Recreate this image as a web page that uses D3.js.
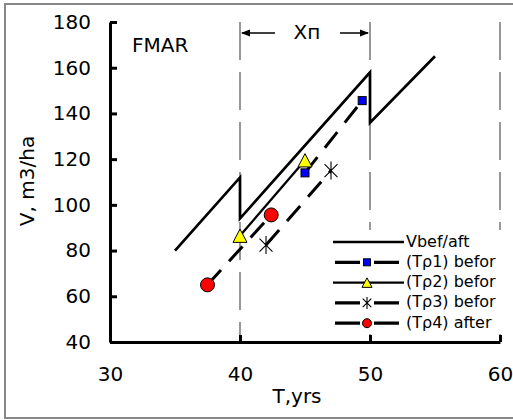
<!DOCTYPE html>
<html>
<head>
<meta charset="utf-8">
<script src="https://cdn.jsdelivr.net/npm/d3@7"></script>
<style>
  body { margin: 0; background: #fff; }
  svg { display: block; font-family: "DejaVu Sans", Verdana, sans-serif; }
</style>
</head>
<body>
<svg width="513" height="420"></svg>
<script>
// stand age (years) and stock volume (m3/ha)
const vbefT = [35, 40, 40, 50, 50, 55];
const vbefV = [80, 112, 94, 158, 136, 165];
const tp1T = [45, 49.4];
const tp1V = [114, 145.6];
const tp2T = [40, 45];
const tp2V = [86.5, 119.5];
const tp3T = [42, 47];
const tp3V = [82.4, 115];
const tp4T = [37.5, 42.4];
const tp4V = [65, 95.6];

const xTicks = [30, 40, 50, 60];
const yTicks = [40, 60, 80, 100, 120, 140, 160, 180];
const guideT = [40, 50, 60];
const legendLabels = ["Vbef/aft", "(Tρ1) befor", "(Tρ2) befor", "(Tρ3) befor", "(Tρ4) after"];

const svg = d3.select("svg");
const x = d3.scaleLinear([30, 60], [110, 500]);
const y = d3.scaleLinear([40, 180], [342, 22]);

// outer frame (right edge falls outside the picture)
svg.append("rect")
    .attr("x", 5).attr("y", 4)
    .attr("width", 530).attr("height", 414)
    .attr("fill", "#fff")
    .attr("stroke", "#888")
    .attr("stroke-width", 2);

// vertical dashed guides
svg.append("g").selectAll("line")
    .data(guideT)
    .join("line")
    .attr("x1", d => x(d)).attr("x2", d => x(d))
    .attr("y1", y(180)).attr("y2", y(40))
    .attr("stroke", "#444")
    .attr("stroke-width", 1.1)
    .attr("stroke-dasharray", "38,12");

// period arrows  <-  Χп  ->
const ay = 33;
const arrows = svg.append("g").attr("stroke", "#000").attr("fill", "#000");
arrows.append("line")
    .attr("x1", x(40) + 2).attr("x2", x(40) + 35)
    .attr("y1", ay).attr("y2", ay).attr("stroke-width", 1.5);
arrows.append("path")
    .attr("d", `M${x(40) + 1},${ay}L${x(40) + 10},${ay - 3.5}L${x(40) + 10},${ay + 3.5}Z`)
    .attr("stroke", "none");
arrows.append("line")
    .attr("x1", x(50) - 30).attr("x2", x(50) - 2)
    .attr("y1", ay).attr("y2", ay).attr("stroke-width", 1.5);
arrows.append("path")
    .attr("d", `M${x(50) - 1},${ay}L${x(50) - 10},${ay - 3.5}L${x(50) - 10},${ay + 3.5}Z`)
    .attr("stroke", "none");
svg.append("text")
    .attr("x", (x(40) + x(50)) / 2 + 2)
    .attr("y", ay)
    .attr("dominant-baseline", "middle")
    .attr("text-anchor", "middle")
    .style("font-size", "20px")
    .text("Χп");

svg.append("text")
    .attr("x", 132).attr("y", 46)
    .attr("dominant-baseline", "middle")
    .style("font-size", "20px")
    .text("FMAR");

const line = d3.line().x(d => x(d[0])).y(d => y(d[1]));
const zip = (a, b) => a.map((t, i) => [t, b[i]]);

// series lines
svg.append("path")
    .attr("d", line(zip(vbefT, vbefV)))
    .attr("fill", "none").attr("stroke", "#000")
    .attr("stroke-width", 2.7).attr("stroke-linejoin", "miter");

const dashed = [zip(tp1T, tp1V), zip(tp3T, tp3V), zip(tp4T, tp4V)];
svg.append("g").selectAll("path")
    .data(dashed)
    .join("path")
    .attr("d", line)
    .attr("fill", "none").attr("stroke", "#000")
    .attr("stroke-width", 3)
    .attr("stroke-dasharray", "20,12");

svg.append("path")
    .attr("d", line(zip(tp2T, tp2V)))
    .attr("fill", "none").attr("stroke", "#000")
    .attr("stroke-width", 2.3);

// marker shapes
function square(g, s) {
    g.append("rect").attr("x", -s / 2).attr("y", -s / 2).attr("width", s).attr("height", s)
        .attr("fill", "#0000ff").attr("stroke", "#000").attr("stroke-width", 1);
}
function triangle(g, s) {
    const h = s * 0.95;
    g.append("path").attr("d", `M0,${-h / 2}L${s / 2},${h / 2}L${-s / 2},${h / 2}Z`)
        .attr("fill", "#ffff00").attr("stroke", "#000").attr("stroke-width", 1);
}
function star(g, s) {
    const r = s / 2, d = r * 0.72;
    g.append("path").attr("d", `M0,${-r}V${r}M${-d},${-d}L${d},${d}M${-d},${d}L${d},${-d}`)
        .attr("stroke", "#000").attr("stroke-width", 1.1).attr("fill", "none");
}
function dot(g, s) {
    g.append("circle").attr("r", s / 2)
        .attr("fill", "#ff0000").attr("stroke", "#000").attr("stroke-width", 1);
}

function markers(data, shape, s) {
    svg.append("g").selectAll("g")
        .data(data)
        .join("g")
        .attr("transform", d => `translate(${x(d[0])},${y(d[1])})`)
        .each(function () { shape(d3.select(this), s); });
}
markers(zip(tp1T, tp1V), square, 8);
markers(zip(tp2T, tp2V), triangle, 14);
markers(zip(tp3T, tp3V), star, 18);
markers(zip(tp4T, tp4V), dot, 14);

// axes
const yAxis = svg.append("g")
    .attr("transform", `translate(${x(30)},0)`)
    .call(d3.axisLeft(y).tickValues(yTicks).tickSizeInner(-7).tickSizeOuter(0).tickPadding(19));
const xAxis = svg.append("g")
    .attr("transform", `translate(0,${y(40)})`)
    .call(d3.axisBottom(x).tickValues(xTicks).tickSizeInner(-7).tickSizeOuter(0).tickPadding(25));
[xAxis, yAxis].forEach(a => {
    a.select(".domain").attr("stroke-width", 3);
    a.selectAll(".tick line").attr("stroke-width", 3);
    a.selectAll(".tick text").style("font-size", "20px").attr("fill", "#000");
    a.attr("font-family", null);
});
xAxis.selectAll(".tick").filter(d => d === 30).select("line").remove();

svg.append("text")
    .attr("x", 297).attr("y", 397)
    .attr("text-anchor", "middle")
    .attr("dominant-baseline", "middle")
    .style("font-size", "20px")
    .text("T,yrs");

svg.append("text")
    .attr("transform", "translate(28,181) rotate(-90)")
    .attr("text-anchor", "middle")
    .attr("dominant-baseline", "middle")
    .style("font-size", "20px")
    .text("V, m3/ha");

// legend
const legend = svg.append("g");
legend.append("rect")
    .attr("x", 331).attr("y", 230).attr("width", 172).attr("height", 104)
    .attr("fill", "#fff");
const shapes = [null, square, triangle, star, dot];
const sizes = [0, 7, 10, 12, 9];
const rowY = i => 242 + i * 20.3;
legendLabels.forEach((label, i) => {
    const g = legend.append("g").attr("transform", `translate(0,${rowY(i)})`);
    if (i === 0 || i === 2) {
        g.append("line").attr("x1", 333).attr("x2", 404)
            .attr("stroke", "#000").attr("stroke-width", i === 0 ? 2.7 : 2.3);
    } else {
        g.append("line").attr("x1", 335).attr("x2", 399)
            .attr("stroke", "#000").attr("stroke-width", 3.3)
            .attr("stroke-dasharray", "25,14");
    }
    if (shapes[i]) {
        const m = g.append("g").attr("transform", "translate(367,0)");
        shapes[i](m, sizes[i]);
    }
    g.append("text")
        .attr("x", 406)
        .attr("dominant-baseline", "middle")
        .style("font-size", "16px")
        .text(label);
});
</script>
</body>
</html>
